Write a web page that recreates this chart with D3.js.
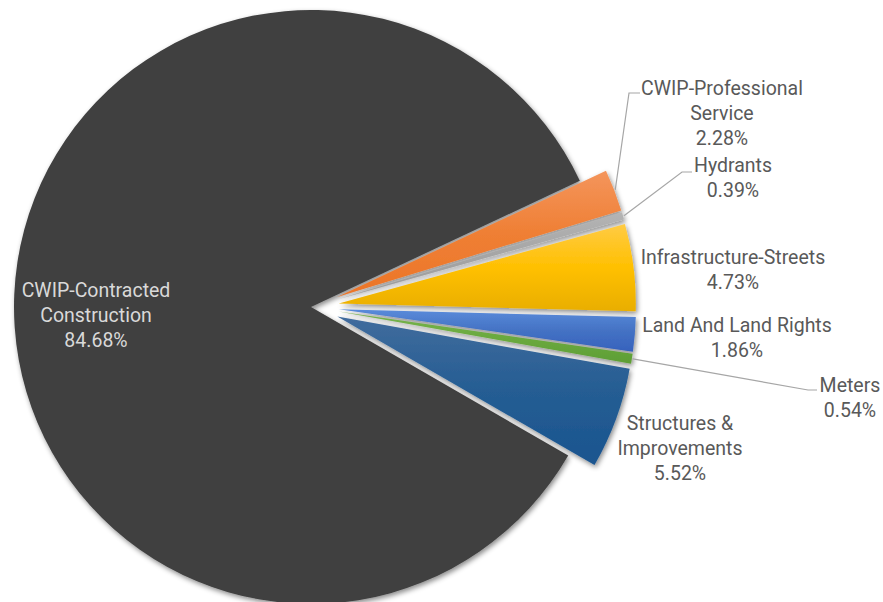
<!DOCTYPE html>
<html>
<head>
<meta charset="utf-8">
<script src="https://cdn.jsdelivr.net/npm/d3@7"></script>
<style>
  html, body { margin: 0; padding: 0; background: #ffffff; }
  svg { display: block; }
</style>
</head>
<body>
<svg id="chart" width="883" height="602"></svg>
<script>
// Construction-in-progress breakdown by account
const categories = [
  "CWIP-Contracted Construction",
  "CWIP-Professional Service",
  "Hydrants",
  "Infrastructure-Streets",
  "Land And Land Rights",
  "Meters",
  "Structures & Improvements"
];
const shares = [84.68, 2.28, 0.39, 4.73, 1.86, 0.54, 5.52];
const labelLines = [
  ["CWIP-Contracted", "Construction"],
  ["CWIP-Professional", "Service"],
  ["Hydrants"],
  ["Infrastructure-Streets"],
  ["Land And Land Rights"],
  ["Meters"],
  ["Structures &", "Improvements"]
];

// fills: [top, middle, bottom] of a vertical gradient
const fills = [
  ["#404040", "#404040", "#404040"],
  ["#F4955C", "#EF7F34", "#EC7528"],
  ["#B4B4B4", "#A5A5A5", "#9A9A9A"],
  ["#FFCB45", "#FFC000", "#E9AE00"],
  ["#5A8BDA", "#4472C4", "#3662BD"],
  ["#78B44E", "#6AA93F", "#5E9E35"],
  ["#416C9D", "#255D93", "#1A558F"]
];

// label placement (text block centre x, first line y) and leader elbows
const labelLayout = [
  { x: 96,  y: 290, color: "#d9d9d9" },
  { x: 722, y: 88 },
  { x: 733, y: 165 },
  { x: 733, y: 257 },
  { x: 737, y: 325 },
  { x: 850, y: 385 },
  { x: 680, y: 423 }
];
const leaders = {
  1: [[629, 93], [640, 93]],
  2: [[682, 172], [692, 172]],
  5: [[808, 390], [817, 390]]
};

const width = 883, height = 602;
const cx = 311, cy = 307, radius = 297, explode = 28;
const lineHeight = 25;
const deg = Math.PI / 180;

const svg = d3.select("#chart");
const defs = svg.append("defs");

const shadow = defs.append("filter")
  .attr("id", "sliceShadow")
  .attr("x", "-20%").attr("y", "-20%")
  .attr("width", "140%").attr("height", "140%");
shadow.append("feDropShadow")
  .attr("dx", 1.5).attr("dy", 2.5)
  .attr("stdDeviation", 2.5)
  .attr("flood-color", "#000000")
  .attr("flood-opacity", 0.45);

fills.forEach((f, i) => {
  const g = defs.append("linearGradient")
    .attr("id", "grad" + i)
    .attr("x1", 0).attr("y1", 0).attr("x2", 0).attr("y2", 1);
  g.append("stop").attr("offset", "0%").attr("stop-color", f[0]);
  g.append("stop").attr("offset", "50%").attr("stop-color", f[1]);
  g.append("stop").attr("offset", "100%").attr("stop-color", f[2]);
});

const data = categories.map((c, i) => ({ name: c, value: shares[i], index: i }));

const pie = d3.pie()
  .sort(null)
  .value(d => d.value)
  .startAngle(120 * deg)
  .endAngle(120 * deg + 2 * Math.PI);

const arcs = pie(data);
const arc = d3.arc().innerRadius(0).outerRadius(radius);

function offsetOf(a) {
  if (a.data.index === 0) return [0, 0];
  const m = (a.startAngle + a.endAngle) / 2;
  return [explode * Math.sin(m), -explode * Math.cos(m)];
}

const root = svg.append("g").attr("transform", `translate(${cx},${cy})`);

root.selectAll("path.slice")
  .data(arcs)
  .join("path")
  .attr("class", "slice")
  .attr("transform", a => { const o = offsetOf(a); return `translate(${o[0]},${o[1]})`; })
  .attr("d", arc)
  .attr("fill", a => `url(#grad${a.data.index})`)
  .attr("filter", "url(#sliceShadow)");

// leader lines from the slice rim to the label
const lineGen = d3.line();
arcs.forEach(a => {
  const pts = leaders[a.data.index];
  if (!pts) return;
  const o = offsetOf(a);
  const m = (a.startAngle + a.endAngle) / 2;
  const start = [cx + o[0] + (radius + 1) * Math.sin(m), cy + o[1] - (radius + 1) * Math.cos(m)];
  svg.append("path")
    .attr("d", lineGen([start, ...pts]))
    .attr("fill", "none")
    .attr("stroke", "#a6a6a6")
    .attr("stroke-width", 1.2);
});

// data labels: category name and share
const fmt = d3.format(".2f");
const labels = svg.append("g")
  .attr("font-family", "Roboto, 'Noto Sans', sans-serif")
  .attr("font-size", 19.5)
  .attr("text-anchor", "middle");

arcs.forEach(a => {
  const i = a.data.index;
  const pos = labelLayout[i];
  const lines = labelLines[i].concat([fmt(a.data.value) + "%"]);
  const t = labels.append("text")
    .attr("fill", pos.color || "#595959");
  lines.forEach((ln, k) => {
    t.append("tspan")
      .attr("x", pos.x)
      .attr("y", pos.y + k * lineHeight)
      .attr("dominant-baseline", "central")
      .text(ln);
  });
});
</script>
</body>
</html>
